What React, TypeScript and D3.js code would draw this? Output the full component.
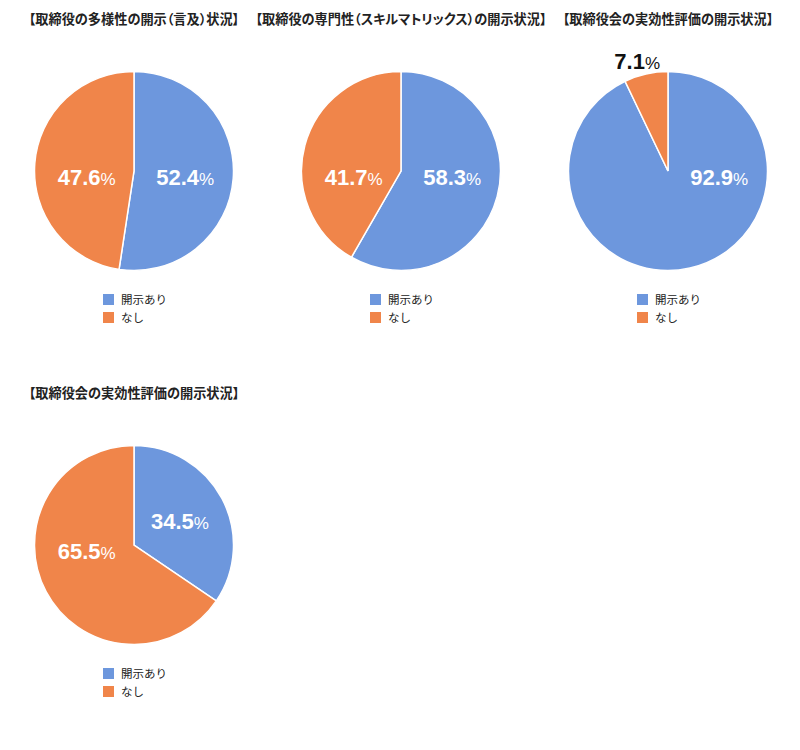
import React from "react";
import * as d3 from "d3";

const chartTitles = [
  "【取締役の多様性の開示（言及）状況】",
  "【取締役の専門性（スキルマトリックス）の開示状況】",
  "【取締役会の実効性評価の開示状況】",
  "【取締役会の実効性評価の開示状況】",
];
const disclosedPct = [52.4, 58.3, 92.9, 34.5];
const notDisclosedPct = [47.6, 41.7, 7.1, 65.5];
const legendLabels = ["開示あり", "なし"];
const sliceColors = ["#6d97dd", "#f0854a"];

const W = 800;
const H = 750;
const R = 99.5;
const colX = d3.scaleLinear().domain([0, 2]).range([134, 668]);
const rowY = d3.scaleLinear().domain([0, 1]).range([171, 545]);

type Slice = d3.PieArcDatum<number>;

function labelPos(s: Slice, share: number): { x: number; y: number; outside: boolean } {
  const mid = (s.startAngle + s.endAngle) / 2;
  if (share < 10) {
    const r = R * 1.14;
    const a = mid - (3 * Math.PI) / 180;
    return { x: Math.sin(a) * r, y: -Math.cos(a) * r, outside: true };
  }
  let a = mid;
  if (share >= 40) {
    const east = Math.PI / 2;
    const west = (3 * Math.PI) / 2;
    const candidates = [east, west].filter((c) => c >= s.startAngle && c <= s.endAngle);
    if (candidates.length) {
      candidates.sort((p, q) => Math.abs(p - mid) - Math.abs(q - mid));
      const c = candidates[0];
      const off = (8 * Math.PI) / 180;
      a = c === east ? c + off : c - off;
    }
  }
  const r = R * 0.5;
  return { x: Math.sin(a) * r + 2, y: -Math.cos(a) * r, outside: false };
}

function PieChart({ idx }: { idx: number }) {
  const cx = colX(idx % 3);
  const cy = rowY(Math.floor(idx / 3));
  const values = [disclosedPct[idx], notDisclosedPct[idx]];
  const pie = d3.pie<number>().sort(null).value((d) => d);
  const arcs = pie(values);
  const arc = d3.arc<Slice>().innerRadius(0).outerRadius(R);
  return (
    <g>
      <text
        x={cx}
        y={cy - 147}
        textAnchor="middle"
        fontFamily="'Noto Sans CJK JP', sans-serif"
        fontWeight="bold"
        fontSize={13.2}
        fill="#222"
        style={{ fontFeatureSettings: '"palt"' }}
      >
        {chartTitles[idx]}
      </text>
      <g transform={`translate(${cx},${cy})`}>
        {arcs.map((s, i) => (
          <path key={i} d={arc(s) || ""} fill={sliceColors[i]} stroke="#fff" strokeWidth={1.5} />
        ))}
        {arcs.map((s, i) => {
          const p = labelPos(s, values[i]);
          return (
            <text
              key={"l" + i}
              x={p.x}
              y={p.y + 7.5}
              textAnchor="middle"
              fontFamily="'Liberation Sans', Arial, sans-serif"
              fill={p.outside ? "#111" : "#fff"}
            >
              <tspan fontWeight="bold" fontSize={22}>
                {values[i].toFixed(1)}
              </tspan>
              <tspan fontSize={17}>%</tspan>
            </text>
          );
        })}
      </g>
      {legendLabels.map((lab, i) => (
        <g key={"g" + i} transform={`translate(${cx - 31},${cy + 123 + i * 18})`}>
          <rect x={0} y={0} width={11} height={11} fill={sliceColors[i]} />
          <text
            x={18}
            y={10}
            fontFamily="'Noto Sans CJK JP', sans-serif"
            fontSize={11.5}
            fill="#222"
          >
            {lab}
          </text>
        </g>
      ))}
    </g>
  );
}

export default function App() {
  return (
    <div style={{ position: "absolute", left: 0, top: 0, width: W, height: H, background: "#fff" }}>
      <svg width={W} height={H} style={{ display: "block" }}>
        <rect width={W} height={H} fill="#fff" />
        {chartTitles.map((_, i) => (
          <PieChart key={i} idx={i} />
        ))}
      </svg>
    </div>
  );
}
